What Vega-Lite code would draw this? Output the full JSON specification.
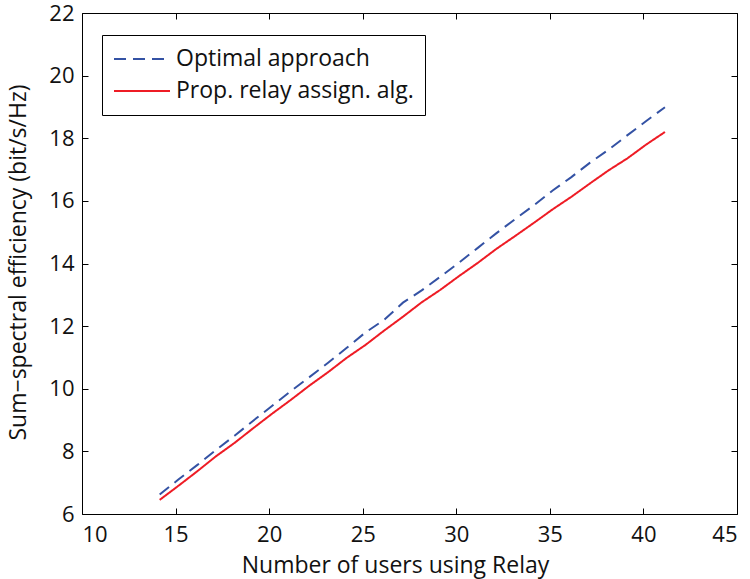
{
  "$schema": "https://vega.github.io/schema/vega-lite/v6.json",
  "width": 655,
  "height": 501,
  "autosize": {"type": "none"},
  "padding": {"left": 82, "top": 13, "right": 13, "bottom": 65},
  "background": "white",
  "config": {
    "view": {"stroke": "#000", "strokeWidth": 1},
    "axis": {
      "domain": false,
      "grid": false,
      "ticks": true,
      "tickSize": -6,
      "tickColor": "#000",
      "tickWidth": 1,
      "labelFont": "Open Sans",
      "labelFontSize": 22,
      "labelColor": "#111",
      "titleFont": "Open Sans",
      "titleFontSize": 23,
      "titleFontWeight": "normal",
      "titleColor": "#111"
    }
  },
  "datasets": {
    "curves": [
      {"x": 14.15, "series": "Optimal approach", "y": 6.62},
      {"x": 15.15, "series": "Optimal approach", "y": 7.10},
      {"x": 16.15, "series": "Optimal approach", "y": 7.56},
      {"x": 17.15, "series": "Optimal approach", "y": 8.04},
      {"x": 18.15, "series": "Optimal approach", "y": 8.50},
      {"x": 19.15, "series": "Optimal approach", "y": 8.98},
      {"x": 20.15, "series": "Optimal approach", "y": 9.45},
      {"x": 21.15, "series": "Optimal approach", "y": 9.92},
      {"x": 22.15, "series": "Optimal approach", "y": 10.37},
      {"x": 23.15, "series": "Optimal approach", "y": 10.83},
      {"x": 24.15, "series": "Optimal approach", "y": 11.31},
      {"x": 25.15, "series": "Optimal approach", "y": 11.80},
      {"x": 26.15, "series": "Optimal approach", "y": 12.20},
      {"x": 27.15, "series": "Optimal approach", "y": 12.75},
      {"x": 28.15, "series": "Optimal approach", "y": 13.14},
      {"x": 29.15, "series": "Optimal approach", "y": 13.58},
      {"x": 30.15, "series": "Optimal approach", "y": 14.03},
      {"x": 31.15, "series": "Optimal approach", "y": 14.50},
      {"x": 32.15, "series": "Optimal approach", "y": 14.97},
      {"x": 33.15, "series": "Optimal approach", "y": 15.42},
      {"x": 34.15, "series": "Optimal approach", "y": 15.86},
      {"x": 35.15, "series": "Optimal approach", "y": 16.33},
      {"x": 36.15, "series": "Optimal approach", "y": 16.76},
      {"x": 37.15, "series": "Optimal approach", "y": 17.22},
      {"x": 38.15, "series": "Optimal approach", "y": 17.64},
      {"x": 39.15, "series": "Optimal approach", "y": 18.10},
      {"x": 40.15, "series": "Optimal approach", "y": 18.55},
      {"x": 41.15, "series": "Optimal approach", "y": 18.99},
      {"x": 14.15, "series": "Prop. relay assign. alg.", "y": 6.45},
      {"x": 15.15, "series": "Prop. relay assign. alg.", "y": 6.90},
      {"x": 16.15, "series": "Prop. relay assign. alg.", "y": 7.36},
      {"x": 17.15, "series": "Prop. relay assign. alg.", "y": 7.84},
      {"x": 18.15, "series": "Prop. relay assign. alg.", "y": 8.27},
      {"x": 19.15, "series": "Prop. relay assign. alg.", "y": 8.74},
      {"x": 20.15, "series": "Prop. relay assign. alg.", "y": 9.20},
      {"x": 21.15, "series": "Prop. relay assign. alg.", "y": 9.64},
      {"x": 22.15, "series": "Prop. relay assign. alg.", "y": 10.10},
      {"x": 23.15, "series": "Prop. relay assign. alg.", "y": 10.53},
      {"x": 24.15, "series": "Prop. relay assign. alg.", "y": 10.99},
      {"x": 25.15, "series": "Prop. relay assign. alg.", "y": 11.40},
      {"x": 26.15, "series": "Prop. relay assign. alg.", "y": 11.86},
      {"x": 27.15, "series": "Prop. relay assign. alg.", "y": 12.30},
      {"x": 28.15, "series": "Prop. relay assign. alg.", "y": 12.76},
      {"x": 29.15, "series": "Prop. relay assign. alg.", "y": 13.16},
      {"x": 30.15, "series": "Prop. relay assign. alg.", "y": 13.60},
      {"x": 31.15, "series": "Prop. relay assign. alg.", "y": 14.02},
      {"x": 32.15, "series": "Prop. relay assign. alg.", "y": 14.47},
      {"x": 33.15, "series": "Prop. relay assign. alg.", "y": 14.88},
      {"x": 34.15, "series": "Prop. relay assign. alg.", "y": 15.30},
      {"x": 35.15, "series": "Prop. relay assign. alg.", "y": 15.73},
      {"x": 36.15, "series": "Prop. relay assign. alg.", "y": 16.13},
      {"x": 37.15, "series": "Prop. relay assign. alg.", "y": 16.56},
      {"x": 38.15, "series": "Prop. relay assign. alg.", "y": 16.98},
      {"x": 39.15, "series": "Prop. relay assign. alg.", "y": 17.36},
      {"x": 40.15, "series": "Prop. relay assign. alg.", "y": 17.80},
      {"x": 41.15, "series": "Prop. relay assign. alg.", "y": 18.20}
    ]
  },
  "data": {"name": "curves"},
  "resolve": {"axis": {"x": "independent", "y": "independent"}},
  "layer": [
    {
      "mark": {"type": "line", "strokeWidth": 2},
      "encoding": {
        "x": {
          "field": "x",
          "type": "quantitative",
          "scale": {"domain": [10, 45], "nice": false, "zero": false},
          "axis": {
            "orient": "bottom",
            "values": [10, 15, 20, 25, 30, 35, 40, 45],
            "labelPadding": 16,
            "title": "Number of users using Relay",
            "titleX": 313,
            "titleY": 58,
            "titleAlign": "center",
            "titleBaseline": "alphabetic"
          }
        },
        "y": {
          "field": "y",
          "type": "quantitative",
          "scale": {"domain": [6, 22], "nice": false, "zero": false},
          "axis": {
            "orient": "left",
            "values": [6, 8, 10, 12, 14, 16, 18, 20, 22],
            "labelPadding": 14,
            "title": "Sum−spectral efficiency (bit/s/Hz)",
            "titleX": -57,
            "titleY": 249,
            "titleAngle": -90,
            "titleAlign": "center",
            "titleBaseline": "alphabetic"
          }
        },
        "color": {
          "field": "series",
          "type": "nominal",
          "scale": {
            "domain": ["Optimal approach", "Prop. relay assign. alg."],
            "range": ["#3452a4", "#ee1c25"]
          },
          "legend": {
            "title": null,
            "orient": "none",
            "legendX": 20,
            "legendY": 22,
            "direction": "vertical",
            "symbolType": "stroke",
            "symbolSize": 3136,
            "symbolStrokeWidth": 2,
            "clipHeight": 26,
            "rowPadding": 6,
            "labelOffset": 5,
            "labelLimit": 500,
            "labelFont": "Open Sans",
            "labelFontSize": 23,
            "labelColor": "#111",
            "padding": 11,
            "strokeColor": "#000",
            "fillColor": "white"
          }
        },
        "strokeDash": {
          "field": "series",
          "type": "nominal",
          "scale": {
            "domain": ["Optimal approach", "Prop. relay assign. alg."],
            "range": [[12, 7], [1, 0]]
          },
          "legend": {
            "title": null,
            "orient": "none",
            "legendX": 20,
            "legendY": 22,
            "direction": "vertical",
            "symbolType": "stroke",
            "symbolSize": 3136,
            "symbolStrokeWidth": 2,
            "clipHeight": 26,
            "rowPadding": 6,
            "labelOffset": 5,
            "labelLimit": 500,
            "labelFont": "Open Sans",
            "labelFontSize": 23,
            "labelColor": "#111",
            "padding": 11,
            "strokeColor": "#000",
            "fillColor": "white"
          }
        }
      }
    },
    {
      "mark": {"type": "line", "opacity": 0},
      "encoding": {
        "x": {
          "field": "x",
          "type": "quantitative",
          "scale": {"domain": [10, 45], "nice": false, "zero": false},
          "axis": {"orient": "top", "values": [10, 15, 20, 25, 30, 35, 40, 45], "labels": false, "title": null}
        },
        "y": {
          "field": "y",
          "type": "quantitative",
          "scale": {"domain": [6, 22], "nice": false, "zero": false},
          "axis": {"orient": "right", "values": [6, 8, 10, 12, 14, 16, 18, 20, 22], "labels": false, "title": null}
        },
        "detail": {"field": "series", "type": "nominal"}
      }
    }
  ]
}
